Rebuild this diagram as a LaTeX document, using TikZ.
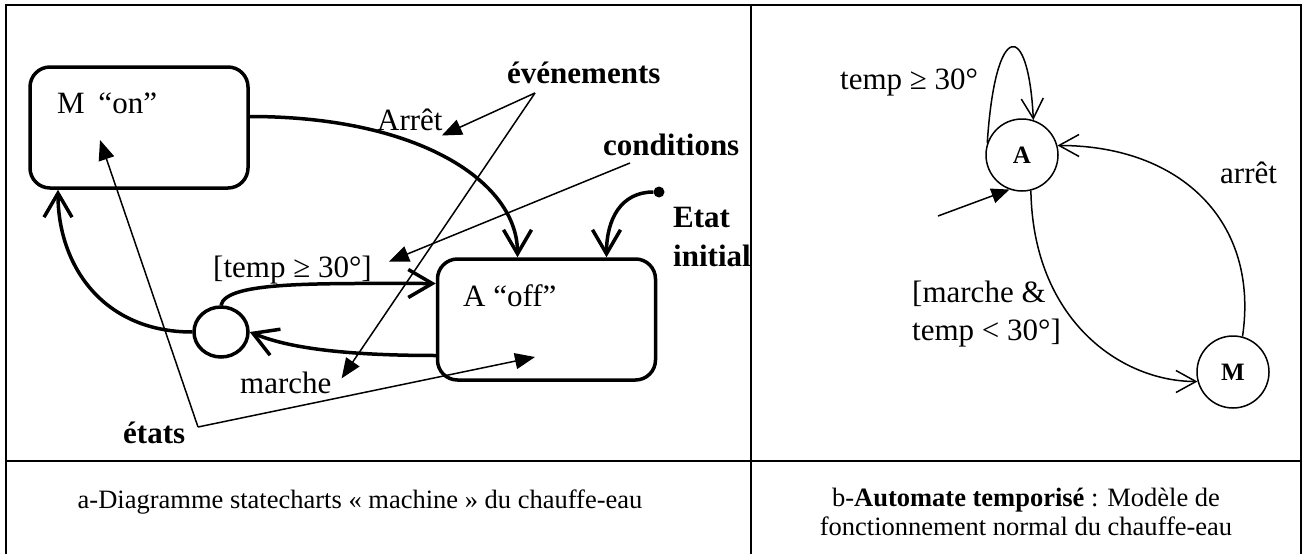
\documentclass[tikz,border=0pt]{standalone}
\usepackage{fontspec}
\setmainfont{Liberation Serif}
\usetikzlibrary{shapes.geometric, arrows.meta, positioning, calc}

\begin{document}
\begin{tikzpicture}[x=1pt, y=-1pt,
    every node/.style={font=\fontsize{31}{38}\selectfont, inner sep=0pt},
    statebox/.style={draw, line width=3.5pt, rounded corners=20pt, minimum width=218pt, minimum height=121pt},
    thickarrow/.style={line width=3.5pt, -{Straight Barb[length=24pt,width=28pt]}},
    annot/.style={line width=1.5pt, -{Triangle[length=20pt,width=16pt]}},
    tstate/.style={draw, circle, line width=1.5pt, minimum size=72pt, font=\fontsize{25}{30}\selectfont\bfseries},
    tarrow/.style={line width=1.5pt, -{Straight Barb[length=20pt,width=22pt]}},
    caption/.style={font=\fontsize{26.5}{29}\selectfont}]
    \useasboundingbox (0,0) rectangle (1304,554);

    % Table frame
    \draw[line width=2pt] (6,554) -- (6,5) -- (1301,5) -- (1301,554);
    \draw[line width=2pt] (751,5) -- (751,554);
    \draw[line width=2.5pt] (6,461) -- (1301,461);

    % a - statecharts
    \node[statebox] (Mon) at (139,127.5) {};
    \node[statebox] (Aoff) at (546.5,319.5) {};
    \node[anchor=base west] (Montxt) at (57,113) {M\hspace{6pt} “on”};
    \node[anchor=base west] (Aofftxt) at (463,306) {A “off”};
    \node[draw, ellipse, line width=3.5pt, minimum width=54pt, minimum height=50pt] (junc) at (221,332) {};
    \node[circle, fill, minimum size=11pt] (ini) at (659,192) {};

    \draw[thickarrow] ([yshift=11pt]Mon.east) .. controls +(170,0) and +(0,-75) .. ([xshift=-29pt]Aoff.north);
    \draw[thickarrow] (ini) .. controls +(-38,0) and +(0,-38) .. ([xshift=60pt]Aoff.north);
    \draw[thickarrow] (junc.north) .. controls +(5,-24) and +(-120,0) .. ([yshift=36pt]Aoff.west);
    \draw[thickarrow] ([yshift=-36pt]Aoff.west) .. controls +(-120,0) and +(25,10) .. (junc.east);
    \draw[thickarrow] (junc.west) .. controls +(-90,0) and +(0,75) .. ([xshift=-81pt]Mon.south);

    % Labels
    \node[anchor=base west] (arret) at (377,130) {Arrêt};
    \node[anchor=base west] (cond) at (213,277) {[temp ≥ 30°]};
    \node[anchor=base west] (marche) at (240,393) {marche};
    \node[anchor=base west, font=\fontsize{31}{38}\selectfont\bfseries] (evt) at (507,83) {événements};
    \node[anchor=base west, font=\fontsize{31}{38}\selectfont\bfseries] (condtxt) at (603,155) {conditions};
    \node[anchor=base west, font=\fontsize{31}{38}\selectfont\bfseries] (etat) at (673,227) {Etat};
    \node[anchor=base west, font=\fontsize{31}{38}\selectfont\bfseries] (initial) at (673,266) {initial};
    \node[anchor=base west, font=\fontsize{31}{38}\selectfont\bfseries] (etats) at (123,443) {états};

    % Annotation arrows
    \coordinate (evtfoot) at (535,93);
    \coordinate (condfoot) at (630,163);
    \coordinate (etatsfoot) at (198,427);
    \coordinate (tipMon) at (100,140);
    \coordinate (tipAoff) at (535,357);
    \draw[annot] (evtfoot) -- ([shift={(-1,5)}]arret.south east);
    \draw[annot] (evtfoot) -- ([shift={(10,-4)}]marche.east);
    \draw[annot] (condfoot) -- ([shift={(17,-8)}]cond.east);
    \draw[annot] (etatsfoot) -- (tipMon);
    \draw[annot] (etatsfoot) -- (tipAoff);

    % b - timed automaton
    \node[tstate] (A) at (1022,155) {A};
    \node[tstate] (M) at (1233,372) {M};
    \coordinate (Ain) at (938,216);
    \draw[line width=1.5pt, -{Triangle[length=18pt,width=15pt]}] (Ain) -- (A.250);
    \draw[tarrow] (A.161) .. controls +(8,-124) and +(-5,-101) .. (A.72);
    \draw[tarrow] (A.284) .. controls +(2,128) and +(-78,0) .. (M.195);
    \draw[tarrow] (M.75) .. controls +(17,-115) and +(123,0) .. (A.15);
    \node[anchor=base west] (loop) at (840,89) {temp ≥ 30°};
    \node[anchor=base west] (stop) at (1220,183) {arrêt};
    \node[anchor=base west, align=left] (go) at (912,340) {[marche \&\\temp < 30°]};

    % Captions
    \node[caption, anchor=base] (capa) at (360,508) {a-Diagramme statecharts « machine » du chauffe-eau};
    \node[caption, anchor=base, align=center] (capb) at (1026,535) {b-\textbf{Automate temporisé} : Modèle de\\fonctionnement normal du chauffe-eau};
\end{tikzpicture}
\end{document}
